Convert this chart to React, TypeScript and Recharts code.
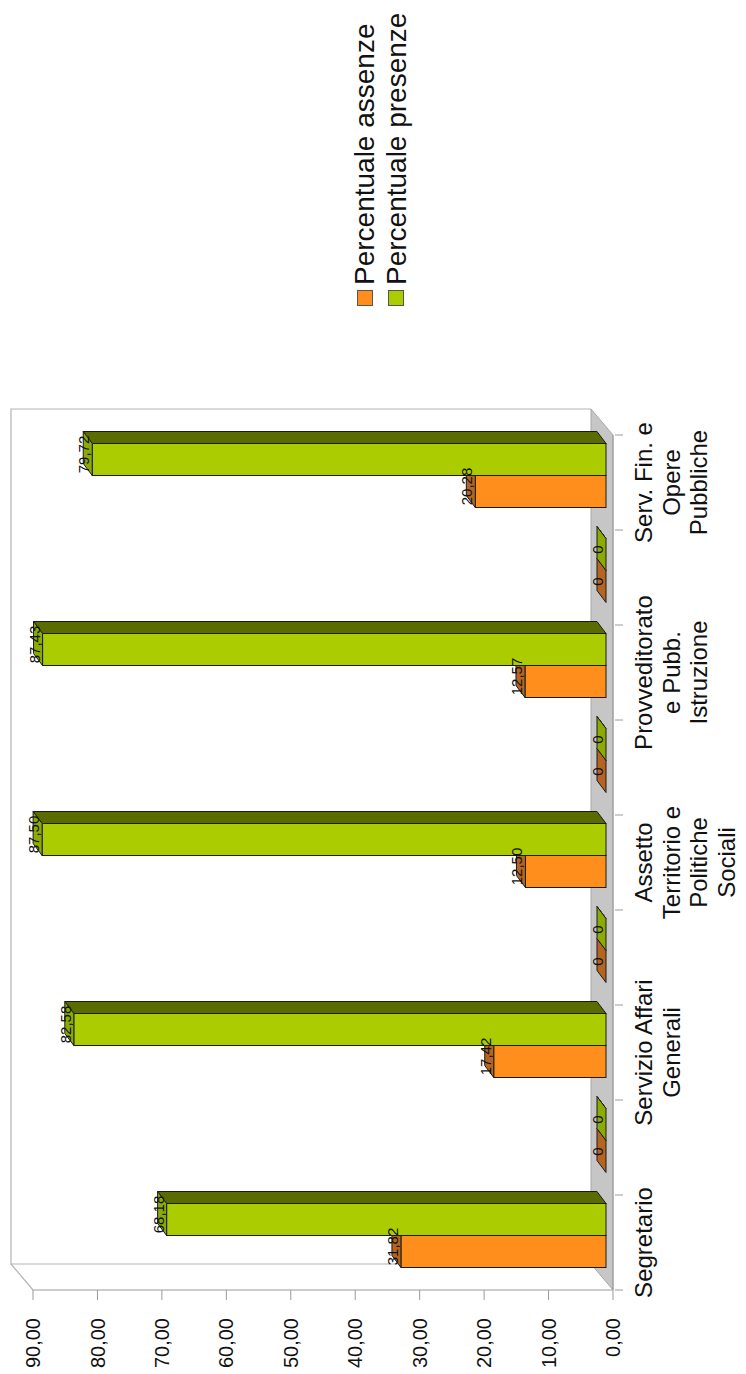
import React from "react";
import { BarChart, Bar, XAxis, YAxis, LabelList } from "recharts";

// ---------- data ----------
const categories = [
  "Segretario",
  "",
  "Servizio Affari\nGenerali",
  "",
  "Assetto\nTerritorio e\nPolitiche\nSociali",
  "",
  "Provveditorato\ne Pubb.\nIstruzione",
  "",
  "Serv. Fin. e\nOpere\nPubbliche",
];
const assenze = [31.82, 0, 17.42, 0, 12.5, 0, 12.57, 0, 20.28];
const presenze = [68.18, 0, 82.58, 0, 87.5, 0, 87.43, 0, 79.72];
const valueTicks = [0, 10, 20, 30, 40, 50, 60, 70, 80, 90];
const seriesNames = ["Percentuale assenze", "Percentuale presenze"];

const data = categories.map((name, i) => ({
  name,
  assenze: assenze[i],
  presenze: presenze[i],
}));

// ---------- style / layout ----------
const FONT = '"Liberation Sans", Arial, Helvetica, sans-serif';
const W = 1374; // unrotated chart width
const H = 746; // unrotated chart height
const M = { top: 33, right: 435, bottom: 0, left: 0 };
const YW = 84;
const XH = 133;
const BAND = (W - M.left - YW - M.right) / categories.length;

// 3D offsets
const FX = 7; // bar front face offset inside floor
const FY = -7;
const DX = 12; // bar depth
const DY = -9;
const FLOOR_DX = 26;
const FLOOR_DY = -22;

const COLORS = {
  orange: { front: "#FF8E1C", top: "#B5651F", side: "#9A5010" },
  green: { front: "#AACC00", top: "#8DAA00", side: "#5A6B00" },
};
const STROKE = "#1a1a1a";

const fmtTick = (v: number) => v.toFixed(2).replace(".", ",");
const fmtLabel = (v: number) => (v === 0 ? "0" : v.toFixed(2).replace(".", ","));

const make3D = (c: { front: string; top: string; side: string }) => (p: any) => {
  const x = p.x + FX;
  const y = p.y + FY;
  const w = p.width;
  const h = p.height;
  const top = `${x},${y} ${x + DX},${y + DY} ${x + w + DX},${y + DY} ${x + w},${y}`;
  const side = `${x + w},${y} ${x + w + DX},${y + DY} ${x + w + DX},${y + h + DY} ${x + w},${y + h}`;
  return (
    <g>
      <polygon points={side} fill={c.side} stroke={STROKE} strokeWidth={1} strokeLinejoin="round" />
      <rect x={x} y={y} width={w} height={h} fill={c.front} stroke={STROKE} strokeWidth={1} />
      <polygon points={top} fill={c.top} stroke={STROKE} strokeWidth={1} strokeLinejoin="round" />
    </g>
  );
};

const labelContent = (p: any) => {
  const vb = p.viewBox || {};
  const x = vb.x ?? p.x;
  const y = vb.y ?? p.y;
  const w = vb.width ?? p.width;
  const v = Number(p.value);
  return (
    <text
      x={x + FX + w / 2 + 5}
      y={y + FY - 3}
      textAnchor="middle"
      fontSize={15}
      fontFamily={FONT}
      fill="#111"
    >
      {fmtLabel(v)}
    </text>
  );
};

const CatTick = (p: any) => {
  const { x, y, payload, index } = p;
  const lines = String(payload.value ?? "").split("\n");
  const n = categories.length;
  return (
    <g>
      <line x1={x - BAND / 2} x2={x - BAND / 2} y1={y + 2} y2={y + 10} stroke="#9a9a9a" />
      {index === n - 1 && (
        <line x1={x + BAND / 2} x2={x + BAND / 2} y1={y + 2} y2={y + 10} stroke="#9a9a9a" />
      )}
      {lines[0] !== "" && (
        <text x={x} y={y + 39} textAnchor="middle" fontSize={24} fontFamily={FONT} fill="#111">
          {lines.map((l, i) => (
            <tspan key={i} x={x} dy={i === 0 ? 0 : 27.5}>
              {l}
            </tspan>
          ))}
        </text>
      )}
    </g>
  );
};

// plot area corners (unrotated)
const PX0 = M.left + YW;
const PX1 = W - M.right;
const PY0 = M.top;
const PY1 = H - M.bottom - XH;

const Background = () => (
  <svg width={W} height={H} style={{ position: "absolute", left: 0, top: 0 }}>
    {/* back wall */}
    <path
      d={`M${PX0 + FLOOR_DX},${PY1 + FLOOR_DY} L${PX0 + FLOOR_DX},${PY0 + FLOOR_DY} L${PX1 + FLOOR_DX},${PY0 + FLOOR_DY} L${PX1 + FLOOR_DX},${PY1 + FLOOR_DY}`}
      fill="#ffffff"
      stroke="#b4b4b4"
      strokeWidth={1.2}
    />
    {/* side wall top edge */}
    <line x1={PX0} y1={PY0} x2={PX0 + FLOOR_DX} y2={PY0 + FLOOR_DY} stroke="#b4b4b4" strokeWidth={1.2} />
    {/* floor */}
    <polygon
      points={`${PX0},${PY1} ${PX1},${PY1} ${PX1 + FLOOR_DX},${PY1 + FLOOR_DY} ${PX0 + FLOOR_DX},${PY1 + FLOOR_DY}`}
      fill="#c6c6c6"
      stroke="#a8a8a8"
      strokeWidth={1}
    />
  </svg>
);

const LegendBox = () => (
  <div
    style={{
      position: "absolute",
      left: 1068,
      top: 349,
      fontFamily: FONT,
      fontSize: 28,
      color: "#111",
    }}
  >
    {seriesNames.map((s, i) => (
      <div key={s} style={{ display: "flex", alignItems: "center", height: 31.5, whiteSpace: "nowrap" }}>
        <span
          style={{
            display: "inline-block",
            width: 14,
            height: 14,
            border: "1px solid #555",
            background: i === 0 ? COLORS.orange.front : COLORS.green.front,
            marginRight: 5,
          }}
        />
        <span style={{ lineHeight: "31.5px" }}>{s}</span>
      </div>
    ))}
  </div>
);

export default function App() {
  return (
    <div
      style={{
        position: "absolute",
        left: 0,
        top: 0,
        width: H,
        height: W,
        overflow: "hidden",
        background: "#fff",
      }}
    >
      <div
        style={{
          position: "absolute",
          left: 0,
          top: 0,
          width: W,
          height: H,
          transformOrigin: "0 0",
          transform: `translate(0px, ${W}px) rotate(-90deg)`,
        }}
      >
        <Background />
        <div style={{ position: "absolute", left: 0, top: 0 }}>
          <BarChart
            width={W}
            height={H}
            data={data}
            margin={M}
            barCategoryGap={15.5}
            barGap={0}
          >
            <XAxis
              dataKey="name"
              height={XH}
              interval={0}
              tickSize={0}
              tickMargin={0}
              tickLine={false}
              axisLine={{ stroke: "#9a9a9a" }}
              tick={<CatTick />}
            />
            <YAxis
              width={YW}
              domain={[0, 90]}
              ticks={valueTicks}
              tickFormatter={fmtTick}
              tickSize={10}
              tickMargin={18}
              axisLine={{ stroke: "#9a9a9a" }}
              tickLine={{ stroke: "#9a9a9a" }}
              tick={{ fontSize: 20, fill: "#111", fontFamily: FONT }}
            />
            <Bar dataKey="assenze" name={seriesNames[0]} fill={COLORS.orange.front} isAnimationActive={false} shape={make3D(COLORS.orange)}>
              <LabelList dataKey="assenze" content={labelContent} />
            </Bar>
            <Bar dataKey="presenze" name={seriesNames[1]} fill={COLORS.green.front} isAnimationActive={false} shape={make3D(COLORS.green)}>
              <LabelList dataKey="presenze" content={labelContent} />
            </Bar>
          </BarChart>
        </div>
        <LegendBox />
      </div>
    </div>
  );
}
